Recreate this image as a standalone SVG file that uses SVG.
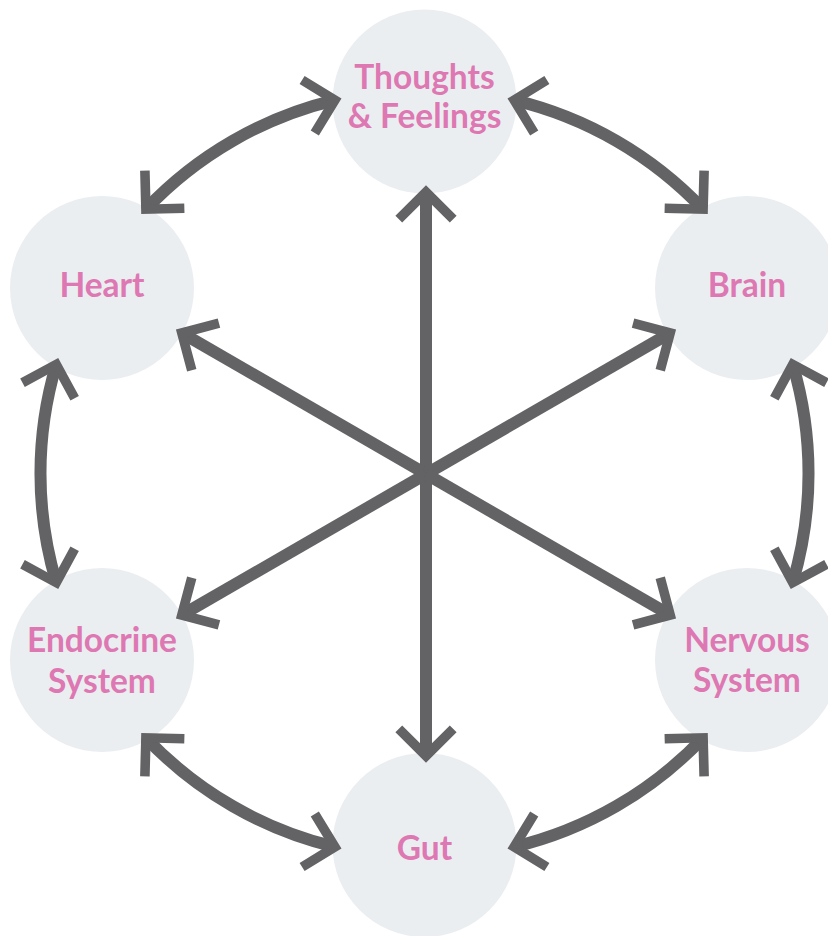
<svg xmlns="http://www.w3.org/2000/svg" width="828" height="936" viewBox="0 0 828 936">
<style>
.node{fill:#EBEEF1}
.lbl{font-family:Lato,"Open Sans","Liberation Sans",sans-serif;font-weight:700;font-size:33.5px;fill:#DE78B3;text-anchor:middle}
.con{fill:none;stroke:#636365;stroke-width:12}
</style>
<defs>
<marker id="ah" markerUnits="userSpaceOnUse" orient="auto-start-reverse" markerWidth="80" markerHeight="80" refX="0" refY="0" viewBox="-50 -50 100 100" overflow="visible">
<path d="M-34,-34 L0,0 L-34,34" fill="none" stroke="#636365" stroke-width="12" stroke-linejoin="miter" stroke-miterlimit="10"/>
</marker>
</defs>
<rect width="828" height="936" fill="#FFFFFF"/>
<g id="n-thoughts"><circle class="node" cx="424.5" cy="101.5" r="92"/><text class="lbl" x="424.5" y="89">Thoughts</text><text class="lbl" x="424.5" y="128">&amp; Feelings</text></g>
<g id="n-heart"><circle class="node" cx="102" cy="288" r="92"/><text class="lbl" x="102" y="297">Heart</text></g>
<g id="n-brain"><circle class="node" cx="747" cy="288" r="92"/><text class="lbl" x="747" y="297">Brain</text></g>
<g id="n-endocrine"><circle class="node" cx="102" cy="660" r="92"/><text class="lbl" x="102" y="652">Endocrine</text><text class="lbl" x="102" y="693">System</text></g>
<g id="n-nervous"><circle class="node" cx="747" cy="660" r="92"/><text class="lbl" x="747" y="652">Nervous</text><text class="lbl" x="747" y="692">System</text></g>
<g id="n-gut"><circle class="node" cx="424.5" cy="845" r="92"/><text class="lbl" x="424.5" y="860">Gut</text></g>
<g id="connectors">
<path class="con" d="M426,474 L426,192" marker-end="url(#ah)"/>
<path class="con" d="M426,474 L426,756" marker-end="url(#ah)"/>
<path class="con" d="M426,474 L181.8,333" marker-end="url(#ah)"/>
<path class="con" d="M426,474 L670.2,333" marker-end="url(#ah)"/>
<path class="con" d="M426,474 L181.8,615" marker-end="url(#ah)"/>
<path class="con" d="M426,474 L670.2,615" marker-end="url(#ah)"/>
<path class="con" d="M145.9,209.2 A384,384 0 0 1 334.9,100.1" marker-start="url(#ah)" marker-end="url(#ah)"/>
<path class="con" d="M514.1,100.1 A384,384 0 0 1 703.1,209.2" marker-start="url(#ah)" marker-end="url(#ah)"/>
<path class="con" d="M792.7,364.4 A384,384 0 0 1 792.7,582.6" marker-start="url(#ah)" marker-end="url(#ah)"/>
<path class="con" d="M703.1,737.8 A384,384 0 0 1 514.1,846.9" marker-start="url(#ah)" marker-end="url(#ah)"/>
<path class="con" d="M334.9,846.9 A384,384 0 0 1 145.9,737.8" marker-start="url(#ah)" marker-end="url(#ah)"/>
<path class="con" d="M56.3,582.6 A384,384 0 0 1 56.3,364.4" marker-start="url(#ah)" marker-end="url(#ah)"/>
</g>
</svg>
